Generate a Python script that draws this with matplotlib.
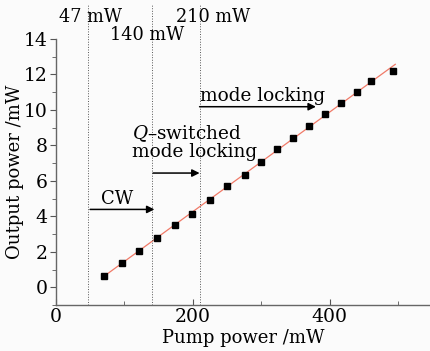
import numpy as np
import matplotlib as mpl
mpl.use('Agg')
import matplotlib.pyplot as plt
from matplotlib.ticker import MultipleLocator

plt.rcParams['font.family'] = ['DejaVu Serif']
plt.rcParams['mathtext.fontset'] = 'dejavuserif'

pump = [70, 96, 122, 148, 174, 199, 225, 250, 276, 300, 323, 347, 370, 393, 417, 440, 460, 492]
output = [0.65, 1.36, 2.04, 2.78, 3.50, 4.14, 4.92, 5.73, 6.35, 7.06, 7.78, 8.42, 9.12, 9.76,
          10.41, 11.01, 11.62, 12.22]
thresholds = [47, 140, 210]
threshold_labels = ['47 mW', '140 mW', '210 mW']

fig = plt.figure(figsize=(4.3, 3.51), dpi=100, facecolor='#fbfbfb')
ax = fig.add_axes([0.130, 0.131, 0.872, 0.758])
ax.set_facecolor('#fbfbfb')

# linear fit through the points
k, b = np.polyfit(pump, output, 1)
fx = np.array([pump[0], 496])
ax.plot(fx, k * fx + b, '-', color='#f07a68', lw=0.9, zorder=2)
ax.plot(pump, output, 's', color='black', ms=5, zorder=3)

for t in thresholds:
    ax.plot([t, t], [-1, 15.9], ls=':', color='#555555', lw=0.7, clip_on=False)

ax.text(51, 15.25, threshold_labels[0], ha='center', va='center', fontsize=12.8)
ax.text(133, 14.2, threshold_labels[1], ha='center', va='center', fontsize=12.8)
ax.text(230, 15.25, threshold_labels[2], ha='center', va='center', fontsize=12.8)

ap = dict(arrowstyle='-|>', color='black', lw=1.1, mutation_scale=11, shrinkA=0, shrinkB=0)
ax.annotate('', xy=(380, 10.18), xytext=(210, 10.18), arrowprops=ap)
ax.text(211, 10.8, 'mode locking', ha='left', va='center', fontsize=13.3)
ax.annotate('', xy=(210, 6.44), xytext=(142, 6.44), arrowprops=ap)
ax.text(111, 8.18, '$Q$\u2013switched\nmode locking', ha='left', va='center',
        fontsize=13.3, linespacing=0.98)
ax.annotate('', xy=(144, 4.39), xytext=(50, 4.39), arrowprops=ap)
ax.text(90, 5.0, 'CW', ha='center', va='center', fontsize=13)

ax.set_xlim(0, 548)
ax.set_ylim(-1, 14)
ax.xaxis.set_major_locator(MultipleLocator(200))
ax.xaxis.set_minor_locator(MultipleLocator(100))
ax.yaxis.set_major_locator(MultipleLocator(2))
ax.yaxis.set_minor_locator(MultipleLocator(1))
ax.tick_params(axis='x', which='both', direction='in', colors='#555555', labelcolor='black',
               labelsize=13.5, pad=2)
ax.tick_params(axis='y', which='both', direction='out', colors='#555555', labelcolor='black',
               labelsize=13.5, pad=2)
ax.tick_params(which='major', length=4)
ax.tick_params(which='minor', length=3)
ax.spines['top'].set_visible(False)
ax.spines['right'].set_visible(False)
for s in ['left', 'bottom']:
    ax.spines[s].set_color('#666666')
    ax.spines[s].set_linewidth(1.0)

ax.set_xlabel('Pump power /mW', fontsize=13, labelpad=2)
ax.set_ylabel('Output power /mW', fontsize=13, va='center')
ax.yaxis.set_label_coords(-0.108, 0.5)

plt.savefig('out.png', dpi=100, facecolor=fig.get_facecolor())
